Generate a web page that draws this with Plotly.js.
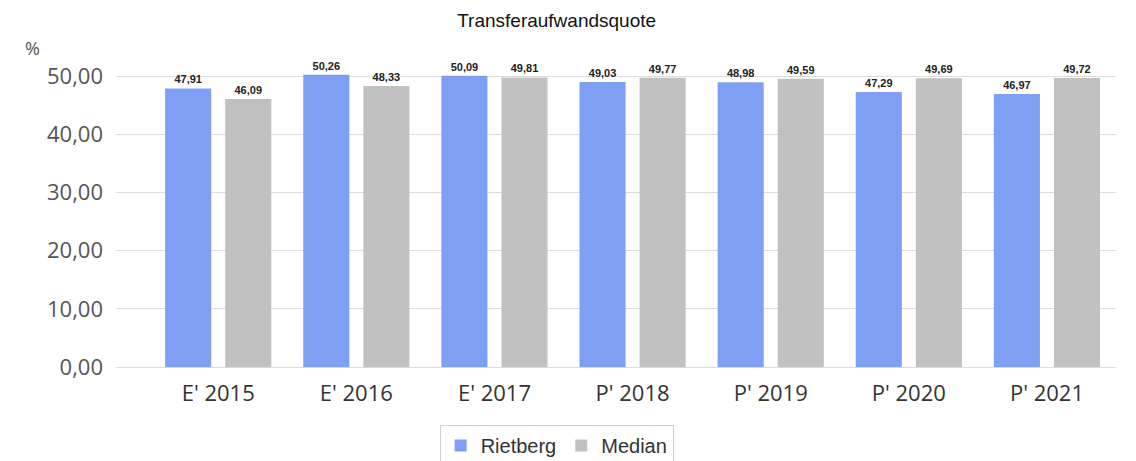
<!DOCTYPE html>
<html><head><meta charset="utf-8">
<script src="https://cdn.plot.ly/plotly-3.0.1.min.js"></script>
<style>html,body{margin:0;padding:0;background:#fff}#c{width:1136px;height:461px}</style>
</head><body><div id="c"></div>
<script>
const categories = ["E' 2015","E' 2016","E' 2017","P' 2018","P' 2019","P' 2020","P' 2021"];
const rietberg = [47.91, 50.26, 50.09, 49.03, 48.98, 47.29, 46.97];
const median = [46.09, 48.33, 49.81, 49.77, 49.59, 49.69, 49.72];
const yTicks = [0, 10, 20, 30, 40, 50];

const common = {
  type: 'bar', x: categories, texttemplate: '%{y:.2f}', textposition: 'outside',
  cliponaxis: false, textfont: {family: 'Liberation Sans, Arial', size: 11, color: '#222', weight: 'bold'},
  hoverinfo: 'skip'
};
const data = [
  Object.assign({}, common, {name: 'Rietberg', y: rietberg, marker: {color: '#7f9ff5'}}),
  Object.assign({}, common, {name: 'Median', y: median, marker: {color: '#c1c1c1'}})
];
const layout = {
  width: 1136, height: 461,
  margin: {l: 116, r: 20, t: 74, b: 94},
  separators: ',.',
  paper_bgcolor: '#fff', plot_bgcolor: '#fff',
  title: {text: 'Transferaufwandsquote', x: 0.49, xanchor: 'center', y: 0.955, yanchor: 'middle',
          font: {family: 'Liberation Sans, Arial', size: 19, color: '#111'}},
  barmode: 'group', bargap: 0.13, bargroupgap: 0.233,
  xaxis: {range: [-0.74, 6.5], tickfont: {family: 'Open Sans', size: 22, color: '#333'},
          showgrid: false, zeroline: false, showline: false, ticks: '', ticklabelstandoff: 11},
  yaxis: {range: [0, 50.4], tickvals: yTicks, tickformat: '.2f',
          tickfont: {family: 'Open Sans', size: 22, color: '#555'},
          showgrid: true, gridcolor: '#dcdcdc', zeroline: true, zerolinecolor: '#dcdcdc',
          ticks: '', ticklen: 0, showline: false, ticklabelstandoff: 12},
  showlegend: true,
  legend: {orientation: 'h', x: 0.49, xref: 'container', xanchor: 'center', y: 0.078, yref: 'container', yanchor: 'top',
           bordercolor: '#cfcfcf', borderwidth: 1, font: {family: 'Liberation Sans, Arial', size: 20, color: '#333'},
           traceorder: 'normal'},
  annotations: [{text: '%', xref: 'paper', yref: 'paper', x: -0.093, y: 1.09, xanchor: 'left', yanchor: 'middle',
                 showarrow: false, font: {family: 'Open Sans', size: 18, color: '#555'}}]
};
Plotly.newPlot('c', data, layout, {displayModeBar: false, staticPlot: true});
</script></body></html>
